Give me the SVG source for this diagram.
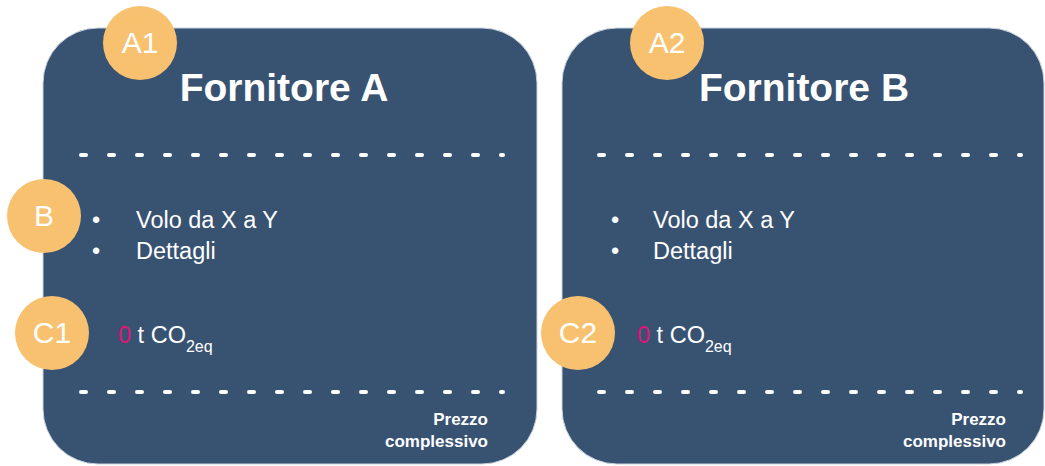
<svg xmlns="http://www.w3.org/2000/svg" width="1045" height="466" viewBox="0 0 1045 466">
<style>
.card{fill:#385272;stroke:#c9d3de;stroke-width:1}
.dots{stroke:#ffffff;stroke-width:4;stroke-linecap:round;stroke-dasharray:5 23;fill:none}
.badge{fill:#F8C16F}
.bt{fill:#ffffff;font-family:'Liberation Sans',Arial,sans-serif;font-size:30px;text-anchor:middle}
.title{fill:#ffffff;font-family:'Liberation Sans',Arial,sans-serif;font-size:39px;font-weight:bold;text-anchor:middle}
.body{fill:#ffffff;font-family:'Liberation Sans',Arial,sans-serif;font-size:23.5px}
.price{fill:#ffffff;font-family:'Liberation Sans',Arial,sans-serif;font-size:17px;font-weight:bold;text-anchor:end}
.zero{fill:#E0157A}
</style>
<g id="card-a">
<rect class="card" x="43" y="28" width="494" height="436" rx="55"/>
<text class="title" x="284" y="101">Fornitore A</text>
<line class="dots" x1="81" y1="155" x2="503" y2="155"/>
<text class="body" x="92" y="228">•</text>
<text class="body" x="136" y="228">Volo da X a Y</text>
<text class="body" x="92" y="259">•</text>
<text class="body" x="136" y="259">Dettagli</text>
<text class="body" x="118" y="343"><tspan class="zero">0</tspan> t CO<tspan font-size="16" dy="9">2eq</tspan></text>
<line class="dots" x1="81" y1="392" x2="503" y2="392"/>
<text class="price" x="488" y="425">Prezzo</text>
<text class="price" x="488" y="447">complessivo</text>
</g>
<g id="card-b">
<rect class="card" x="562" y="28" width="482" height="436" rx="55"/>
<text class="title" x="804" y="101">Fornitore B</text>
<line class="dots" x1="599" y1="155" x2="1021" y2="155"/>
<text class="body" x="611" y="228">•</text>
<text class="body" x="653" y="228">Volo da X a Y</text>
<text class="body" x="611" y="259">•</text>
<text class="body" x="653" y="259">Dettagli</text>
<text class="body" x="637" y="343"><tspan class="zero">0</tspan> t CO<tspan font-size="16" dy="9">2eq</tspan></text>
<line class="dots" x1="599" y1="392" x2="1021" y2="392"/>
<text class="price" x="1006" y="425">Prezzo</text>
<text class="price" x="1006" y="447">complessivo</text>
</g>
<g id="badge-a1"><circle class="badge" cx="140" cy="43" r="37"/><text class="bt" x="140" y="53">A1</text></g>
<g id="badge-a2"><circle class="badge" cx="667" cy="43" r="37"/><text class="bt" x="667" y="53">A2</text></g>
<g id="badge-b"><circle class="badge" cx="44" cy="216" r="37"/><text class="bt" x="44" y="226">B</text></g>
<g id="badge-c1"><circle class="badge" cx="52" cy="333" r="37"/><text class="bt" x="52" y="343">C1</text></g>
<g id="badge-c2"><circle class="badge" cx="578" cy="333" r="37"/><text class="bt" x="578" y="343">C2</text></g>
<g id="connectors"></g>
</svg>
